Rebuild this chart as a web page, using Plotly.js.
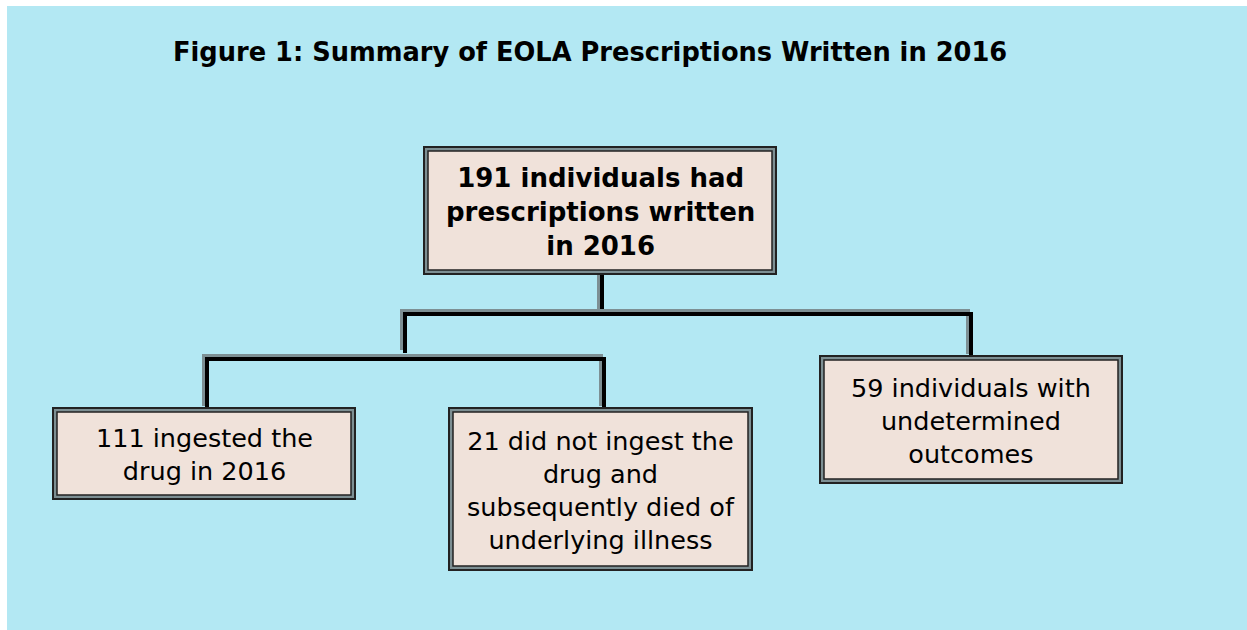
<!DOCTYPE html>
<html>
<head>
<meta charset="utf-8">
<script src="https://cdn.plot.ly/plotly-3.0.1.min.js"></script>
<style>html,body{margin:0;padding:0;background:#fff;}#chart{width:1247px;height:630px;}</style>
</head>
<body>
<div id="chart"></div>
<script>
// ---- data ----
var chartTitle = "Figure 1: Summary of EOLA Prescriptions Written in 2016";
var nodeIds = ["written", "ingested", "notIngested", "undetermined"];
var nodeCounts = [191, 111, 21, 59];
var nodeLabels = [
  "<b>" + nodeCounts[0] + " individuals had<br>prescriptions written<br>in 2016</b>",
  nodeCounts[1] + " ingested the<br>drug in 2016",
  nodeCounts[2] + " did not ingest the<br>drug and<br>subsequently died of<br>underlying illness",
  nodeCounts[3] + " individuals with<br>undetermined<br>outcomes"
];

// ---- layout geometry (pixel-like coords on axes 0..1247, 0..630) ----
var boxGeom = [
  {x0: 424, x1: 776, y0: 147, y1: 274, size: 26},
  {x0: 53,  x1: 355, y0: 408, y1: 499, size: 25.5},
  {x0: 449, x1: 752, y0: 408, y1: 570, size: 25.5},
  {x0: 820, x1: 1122, y0: 356, y1: 483, size: 25.5}
];
// connector polylines
var connectors = [
  [[601, 274], [601, 313]],
  [[404, 352], [404, 313], [970, 313], [970, 356]],
  [[206, 408], [206, 358], [603, 358], [603, 408]]
];

var BG = "#b3e8f3", FILL = "#f0e2da", DARK = "#222", MID = "#7d8f93";
var shapes = [];
shapes.push({type: "rect", xref: "x", yref: "y", x0: 7, x1: 1247, y0: 6, y1: 630,
  fillcolor: BG, line: {width: 0}, layer: "below"});

function pathOf(pts, dx, dy) {
  return pts.map(function (p, i) { return (i ? "L" : "M") + (p[0] + dx) + "," + (p[1] + dy); }).join(" ");
}
connectors.forEach(function (pts) {
  shapes.push({type: "path", xref: "x", yref: "y", path: pathOf(pts, -2, -2),
    line: {color: MID, width: 4}});
  shapes.push({type: "path", xref: "x", yref: "y", path: pathOf(pts, 1, 1),
    line: {color: "#000", width: 4}});
});

var annotations = [];
boxGeom.forEach(function (b, i) {
  shapes.push({type: "rect", xref: "x", yref: "y", x0: b.x0, x1: b.x1, y0: b.y0, y1: b.y1,
    fillcolor: MID, line: {color: DARK, width: 2}});
  shapes.push({type: "rect", xref: "x", yref: "y", x0: b.x0 + 4, x1: b.x1 - 4, y0: b.y0 + 4, y1: b.y1 - 4,
    fillcolor: FILL, line: {color: DARK, width: 1.5}});
  annotations.push({xref: "x", yref: "y", x: (b.x0 + b.x1) / 2, y: (b.y0 + b.y1) / 2 + 1,
    text: nodeLabels[i], showarrow: false, align: "center",
    xanchor: "center", yanchor: "middle",
    font: {family: "DejaVu Sans", size: b.size, color: "#000"}});
});

var layout = {
  width: 1247, height: 630,
  margin: {l: 0, r: 0, t: 0, b: 0},
  paper_bgcolor: "#fff", plot_bgcolor: "#fff",
  showlegend: false,
  title: {text: "<b>" + chartTitle + "</b>", x: 173 / 1247, xanchor: "left",
    y: 1 - 52 / 630, yanchor: "middle",
    font: {family: "DejaVu Sans", size: 25.7, color: "#000"}},
  xaxis: {range: [0, 1247], visible: false, fixedrange: true},
  yaxis: {range: [630, 0], visible: false, fixedrange: true},
  shapes: shapes,
  annotations: annotations
};

Plotly.newPlot("chart", [{x: [], y: [], type: "scatter", hoverinfo: "skip"}], layout,
  {staticPlot: true, displayModeBar: false});
</script>
</body>
</html>
